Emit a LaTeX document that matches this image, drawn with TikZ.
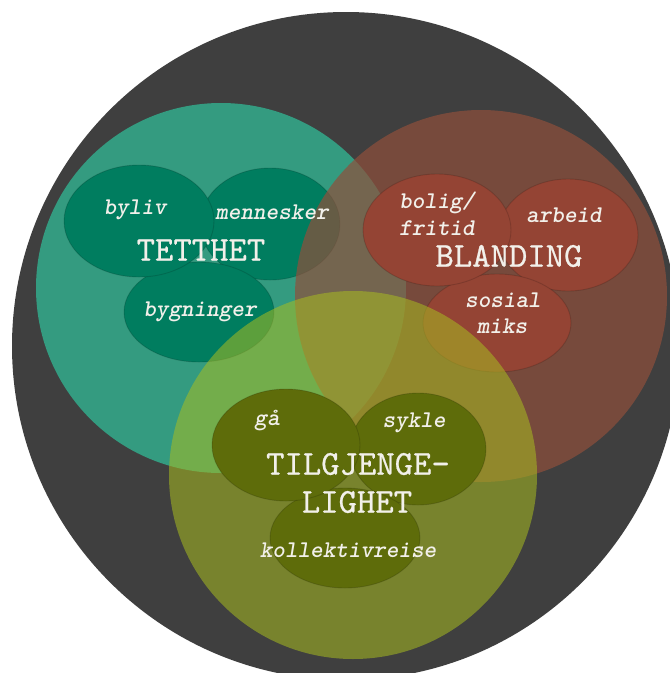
\documentclass[tikz,border=0pt]{standalone}
\usepackage{fontspec}
\newfontfamily\monotitle{lmmono10}[Extension=.otf, UprightFont=*-regular, FakeBold=0.6]
\newfontfamily\monolbl{lmmonolt10}[Extension=.otf, UprightFont=*-regular, BoldFont=*-bold, ItalicFont=*-oblique, BoldItalicFont=*-boldoblique]
\definecolor{bgdark}{RGB}{63,63,63}
\definecolor{tealc}{RGB}{52,155,128}
\definecolor{rustc}{RGB}{144,79,59}
\definecolor{limec}{RGB}{168,188,32}
\definecolor{tealdeep}{RGB}{0,125,95}
\definecolor{rustdeep}{RGB}{148,68,52}
\definecolor{olivedeep}{RGB}{94,108,10}
\definecolor{labelc}{RGB}{242,240,234}
\tikzset{
  bub/.style={draw=black, draw opacity=0.15, line width=0.9pt},
  title/.style={text=labelc, font=\monotitle\bfseries\fontsize{35}{40}\selectfont, align=center, inner sep=0pt},
  lbl/.style={text=labelc, font=\monolbl\bfseries\itshape\fontsize{24}{27}\selectfont, align=left, inner sep=0pt},
}
\begin{document}
\begin{tikzpicture}[x=1pt,y=-1pt]
\useasboundingbox (0,0) rectangle (670,673);
\clip (0,0) rectangle (670,673);
\fill[white] (0,0) rectangle (670,673);

% outer disc
\fill[bgdark] (346,346) circle (334);

% density
\fill[tealc] (221,288) circle (185);
\fill[tealdeep,bub] (270,224) ellipse [x radius=70, y radius=56];
\fill[tealdeep,bub] (199,312) ellipse [x radius=75, y radius=50];
\fill[tealdeep,bub] (139,221) ellipse [x radius=75, y radius=56];

% mix
\fill[rustc, fill opacity=0.7] (481,296) circle (186);
\fill[rustdeep,bub] (568,235) ellipse [x radius=70, y radius=56];
\fill[rustdeep,bub] (497,323) ellipse [x radius=74, y radius=49];
\fill[rustdeep,bub] (437,230) ellipse [x radius=74, y radius=56];

% accessibility
\fill[limec, fill opacity=0.55] (353,475) circle (184);
\fill[olivedeep,bub] (418,449) ellipse [x radius=68, y radius=56];
\fill[olivedeep,bub] (345,538) ellipse [x radius=75, y radius=50];
\fill[olivedeep,bub] (286,445) ellipse [x radius=74, y radius=56];

% labels
\node[lbl] (byliv) at (135,210) {byliv};
\node[lbl] (mennesker) at (272,212) {mennesker};
\node[title] (tetthet) at (201,250) {TETTHET};
\node[lbl] (bygninger) at (200,312) {bygninger};

\node[lbl] (bolig) at (437,203) {bolig/};
\node[lbl] (fritid) at (437,228) {fritid};
\node[lbl] (arbeid) at (564,215) {arbeid};
\node[title] (blanding) at (509,256) {BLANDING};
\node[lbl] (sosial) at (503,300) {sosial};
\node[lbl] (miks) at (502,326) {miks};

\node[lbl] (gaa) at (267,421) {gå};
\node[lbl] (sykle) at (414,423) {sykle};
\node[title] (tilgj) at (358,464) {TILGJENGE-};
\node[title] (lighet) at (357,502) {LIGHET};
\node[lbl] (kollektiv) at (348,550) {kollektivreise};
\end{tikzpicture}
\end{document}
